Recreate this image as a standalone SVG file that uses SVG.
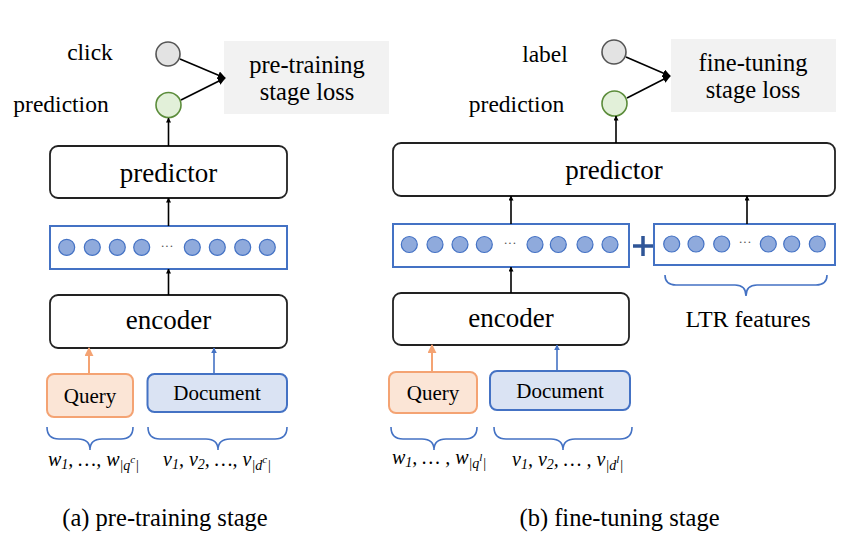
<svg xmlns="http://www.w3.org/2000/svg" width="846" height="551" viewBox="0 0 846 551">
<defs>
<style>
text{font-family:'Liberation Serif','Times New Roman',serif}
.t{fill:#000}
.box{fill:#fff;stroke:#222;stroke-width:1.8}
.vec{fill:#fff;stroke:#4472c4;stroke-width:2}
.dot{fill:#8faadc;stroke:#4472c4;stroke-width:1.2}
.loss{fill:#f2f2f2}
.q{fill:#fbe5d6;stroke:#f4a373;stroke-width:2}
.d{fill:#dae3f3;stroke:#4472c4;stroke-width:2}
.br{fill:none;stroke:#4472c4;stroke-width:1.6}
.k{stroke:#000;stroke-width:1.6;fill:none}
.math{font-style:italic;font-size:20px;fill:#000}
.ell{font-size:13px;fill:#555}
</style>
<marker id="ah" viewBox="0 0 10 10" refX="9" refY="5" markerWidth="5" markerHeight="5" orient="auto" markerUnits="userSpaceOnUse"><path d="M0,0 L10,5 L0,10 z" fill="#000"/></marker>
<marker id="ahL" viewBox="0 0 10 10" refX="9" refY="5" markerWidth="8" markerHeight="8" orient="auto" markerUnits="userSpaceOnUse"><path d="M0,0 L10,5 L0,10 z" fill="#000"/></marker>
<marker id="ahO" viewBox="0 0 10 10" refX="9" refY="5" markerWidth="9" markerHeight="9" orient="auto" markerUnits="userSpaceOnUse"><path d="M0,0 L10,5 L0,10 z" fill="#f4a373"/></marker>
<marker id="ahB" viewBox="0 0 10 10" refX="9" refY="5" markerWidth="6" markerHeight="6" orient="auto" markerUnits="userSpaceOnUse"><path d="M0,0 L10,5 L0,10 z" fill="#4472c4"/></marker>
</defs>
<rect width="846" height="551" fill="#fff"/>

<!-- ===== Panel (a) ===== -->
<g id="a-click"><text class="t" x="90" y="60" font-size="23.5" text-anchor="middle">click</text>
<circle cx="168" cy="54" r="12" fill="#e3e3e3" stroke="#555" stroke-width="1.6"/></g>
<g id="a-prediction"><text class="t" x="61" y="112" font-size="23.5" text-anchor="middle">prediction</text>
<circle cx="168.5" cy="105" r="12.5" fill="#e2f0d9" stroke="#5b8c3a" stroke-width="1.6"/></g>
<g id="a-loss"><rect class="loss" x="224" y="41" width="165" height="73"/>
<text class="t" x="307" y="73" font-size="24.5" text-anchor="middle">pre-training</text>
<text class="t" x="307" y="100" font-size="24.5" text-anchor="middle">stage loss</text></g>
<g id="a-predictor"><rect class="box" x="50" y="146" width="237" height="52" rx="8"/>
<text class="t" x="168.5" y="182" font-size="27" text-anchor="middle">predictor</text></g>
<g id="a-vector"><rect class="vec" x="50" y="226" width="237" height="43"/>
<circle class="dot" cx="66.7" cy="247.3" r="8"/><circle class="dot" cx="92.3" cy="247.3" r="8"/><circle class="dot" cx="117.3" cy="247.3" r="8"/><circle class="dot" cx="141.7" cy="247.3" r="8"/>
<text class="ell" x="167" y="250" text-anchor="middle">···</text>
<circle class="dot" cx="192.3" cy="247.3" r="8"/><circle class="dot" cx="217.3" cy="247.3" r="8"/><circle class="dot" cx="242.7" cy="247.3" r="8"/><circle class="dot" cx="267.3" cy="247.3" r="8"/></g>
<g id="a-encoder"><rect class="box" x="50" y="295" width="237" height="53" rx="8"/>
<text class="t" x="168.5" y="329" font-size="27" text-anchor="middle">encoder</text></g>
<g id="a-query"><rect class="q" x="47" y="374" width="86" height="43" rx="7"/>
<text class="t" x="90" y="403" font-size="21" text-anchor="middle">Query</text></g>
<g id="a-document"><rect class="d" x="147.5" y="374" width="139.5" height="38" rx="7"/>
<text class="t" x="217" y="400" font-size="21" text-anchor="middle">Document</text></g>
<g id="a-qtokens"><path class="br" d="M47,427 Q47,439 59,439 L78,439 Q90,439 90,450 Q90,439 102,439 L121,439 Q133,439 133,427"/>
<text class="math" x="48" y="466">w<tspan font-size="14" dy="3">1</tspan><tspan dy="-3">, …, w</tspan><tspan font-size="14" dy="4">|q</tspan><tspan font-size="11" dy="-7">c</tspan><tspan font-size="14" dy="7">|</tspan></text></g>
<g id="a-dtokens"><path class="br" d="M148,427 Q148,439 160,439 L206,439 Q218,439 218,450 Q218,439 230,439 L275,439 Q287,439 287,427"/>
<text class="math" x="163" y="466">v<tspan font-size="14" dy="3">1</tspan><tspan dy="-3">, v</tspan><tspan font-size="14" dy="3">2</tspan><tspan dy="-3">, …, v</tspan><tspan font-size="14" dy="4">|d</tspan><tspan font-size="11" dy="-7">c</tspan><tspan font-size="14" dy="7">|</tspan></text></g>
<text class="t" x="165" y="526" font-size="24.5" text-anchor="middle">(a) pre-training stage</text>

<!-- ===== Panel (b) ===== -->
<g id="b-label"><text class="t" x="545" y="62" font-size="23.5" text-anchor="middle">label</text>
<circle cx="614" cy="52" r="12" fill="#e3e3e3" stroke="#555" stroke-width="1.6"/></g>
<g id="b-prediction"><text class="t" x="516.5" y="112" font-size="23.5" text-anchor="middle">prediction</text>
<circle cx="614.5" cy="103.5" r="12.5" fill="#e2f0d9" stroke="#5b8c3a" stroke-width="1.6"/></g>
<g id="b-loss"><rect class="loss" x="671" y="39" width="165" height="73"/>
<text class="t" x="753" y="71" font-size="24.5" text-anchor="middle">fine-tuning</text>
<text class="t" x="753" y="98" font-size="24.5" text-anchor="middle">stage loss</text></g>
<g id="b-predictor"><rect class="box" x="393" y="143" width="442" height="53" rx="8"/>
<text class="t" x="614" y="179" font-size="27" text-anchor="middle">predictor</text></g>
<g id="b-vector"><rect class="vec" x="393" y="224" width="236" height="43"/>
<circle class="dot" cx="409.3" cy="244.5" r="8"/><circle class="dot" cx="435" cy="244.5" r="8"/><circle class="dot" cx="460" cy="244.5" r="8"/><circle class="dot" cx="484.3" cy="244.5" r="8"/>
<text class="ell" x="510" y="247" text-anchor="middle">···</text>
<circle class="dot" cx="535" cy="244.5" r="8"/><circle class="dot" cx="558.3" cy="244.5" r="8"/><circle class="dot" cx="585" cy="244.5" r="8"/><circle class="dot" cx="610" cy="244.5" r="8"/></g>
<g id="b-plus"><path d="M633,246 L653,246 M643,236 L643,256" stroke="#2f5597" stroke-width="3.5" fill="none"/></g>
<g id="b-ltr"><rect class="vec" x="654" y="224" width="181" height="41"/>
<circle class="dot" cx="671.7" cy="244" r="8"/><circle class="dot" cx="696" cy="244" r="8"/><circle class="dot" cx="721.7" cy="244" r="8"/>
<text class="ell" x="745" y="246" text-anchor="middle">···</text>
<circle class="dot" cx="768.3" cy="244" r="8"/><circle class="dot" cx="791.7" cy="244" r="8"/><circle class="dot" cx="817.3" cy="244" r="8"/>
<path class="br" d="M665,275 Q665,285 676,285 L735,285 Q746,285 746,296 Q746,285 757,285 L816,285 Q827,285 827,275"/>
<text class="t" x="748" y="327" font-size="24" text-anchor="middle">LTR features</text></g>
<g id="b-encoder"><rect class="box" x="393" y="293" width="236" height="52" rx="8"/>
<text class="t" x="511" y="327" font-size="27" text-anchor="middle">encoder</text></g>
<g id="b-query"><rect class="q" x="389" y="372" width="88" height="41" rx="7"/>
<text class="t" x="433" y="400" font-size="21" text-anchor="middle">Query</text></g>
<g id="b-document"><rect class="d" x="490" y="371" width="140" height="39" rx="7"/>
<text class="t" x="560" y="398" font-size="21" text-anchor="middle">Document</text></g>
<g id="b-qtokens"><path class="br" d="M391,427 Q391,439 403,439 L422,439 Q434,439 434,450 Q434,439 446,439 L465,439 Q477,439 477,427"/>
<text class="math" x="392" y="464">w<tspan font-size="14" dy="3">1</tspan><tspan dy="-3">, … , w</tspan><tspan font-size="14" dy="4">|q</tspan><tspan font-size="11" dy="-7">l</tspan><tspan font-size="14" dy="7">|</tspan></text></g>
<g id="b-dtokens"><path class="br" d="M494,427 Q494,439 506,439 L551,439 Q563,439 563,450 Q563,439 575,439 L620,439 Q632,439 632,427"/>
<text class="math" x="512" y="466">v<tspan font-size="14" dy="3">1</tspan><tspan dy="-3">, v</tspan><tspan font-size="14" dy="3">2</tspan><tspan dy="-3">, … , v</tspan><tspan font-size="14" dy="4">|d</tspan><tspan font-size="11" dy="-7">l</tspan><tspan font-size="14" dy="7">|</tspan></text></g>
<text class="t" x="619.5" y="526" font-size="24.5" text-anchor="middle">(b) fine-tuning stage</text>

<!-- ===== connectors ===== -->
<g id="connectors">
<line class="k" x1="180" y1="59" x2="225" y2="78" marker-end="url(#ahL)"/>
<line class="k" x1="181" y1="100" x2="225" y2="78" marker-end="url(#ahL)"/>
<line class="k" x1="168.5" y1="146" x2="168.5" y2="118" marker-end="url(#ah)"/>
<line class="k" x1="168.5" y1="226" x2="168.5" y2="198" marker-end="url(#ah)"/>
<line class="k" x1="168.5" y1="295" x2="168.5" y2="269" marker-end="url(#ah)"/>
<line x1="89" y1="374" x2="89" y2="348" stroke="#f4a373" stroke-width="2" marker-end="url(#ahO)"/>
<line x1="214" y1="374" x2="214" y2="348" stroke="#4472c4" stroke-width="1.6" marker-end="url(#ahB)"/>

<line class="k" x1="626" y1="57" x2="670" y2="76" marker-end="url(#ahL)"/>
<line class="k" x1="627" y1="98" x2="670" y2="76" marker-end="url(#ahL)"/>
<line class="k" x1="616" y1="143" x2="616" y2="116" marker-end="url(#ah)"/>
<line class="k" x1="511" y1="224" x2="511" y2="196" marker-end="url(#ah)"/>
<line class="k" x1="747" y1="224" x2="747" y2="196" marker-end="url(#ah)"/>
<line class="k" x1="511" y1="293" x2="511" y2="267" marker-end="url(#ah)"/>
<line x1="432" y1="372" x2="432" y2="345" stroke="#f4a373" stroke-width="2" marker-end="url(#ahO)"/>
<line x1="557" y1="371" x2="557" y2="345" stroke="#4472c4" stroke-width="1.6" marker-end="url(#ahB)"/>
</g>
</svg>
